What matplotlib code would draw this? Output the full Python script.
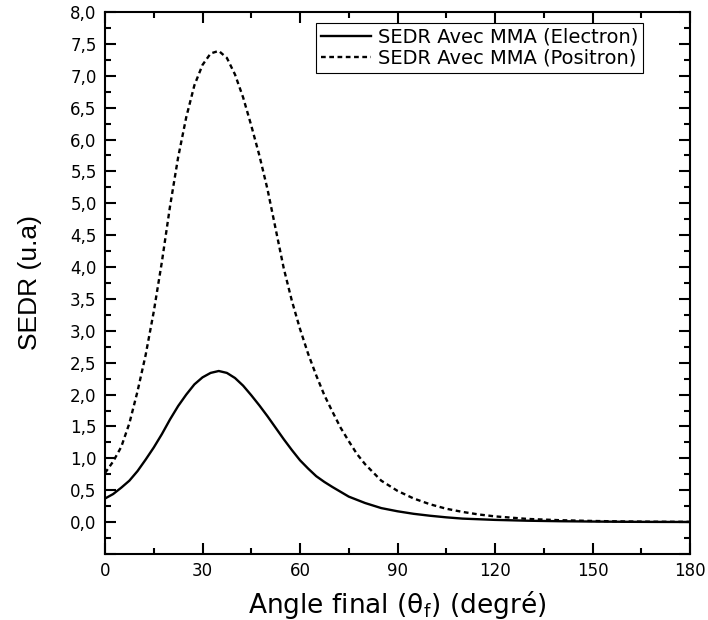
import matplotlib
matplotlib.use("Agg")
import matplotlib.pyplot as plt
from matplotlib.ticker import MultipleLocator, FuncFormatter
from matplotlib import font_manager

# Angle (degrees)
angle_e = [0, 2.5, 5, 7.5, 10, 12.5, 15, 17.5, 20, 22.5, 25, 27.5, 30, 32.5, 35,
           37.5, 40, 42.5, 45, 47.5, 50, 52.5, 55, 57.5, 60, 62.5, 65, 67.5, 70,
           75, 80, 85, 90, 95, 100, 105, 110, 120, 130, 140, 150, 160, 170, 180]
sedr_electron = [0.37, 0.44, 0.54, 0.65, 0.80, 0.98, 1.17, 1.38, 1.61, 1.82, 2.00,
                 2.16, 2.27, 2.34, 2.37, 2.34, 2.26, 2.14, 1.99, 1.83, 1.66, 1.48,
                 1.30, 1.13, 0.97, 0.84, 0.72, 0.63, 0.55, 0.40, 0.30, 0.22, 0.17,
                 0.13, 0.10, 0.075, 0.055, 0.035, 0.022, 0.014, 0.009, 0.005,
                 0.003, 0.002]

angle_p = [0, 2.5, 5, 7.5, 10, 12.5, 15, 17.5, 20, 22.5, 25, 27.5, 30, 32.5, 35,
           37.5, 40, 42.5, 45, 47.5, 50, 52.5, 55, 57.5, 60, 62.5, 65, 67.5, 70,
           72.5, 75, 77.5, 80, 85, 90, 95, 100, 105, 110, 115, 120, 130, 140,
           150, 160, 170, 180]
sedr_positron = [0.77, 0.95, 1.18, 1.55, 2.05, 2.62, 3.30, 4.08, 4.95, 5.72, 6.35,
                 6.85, 7.17, 7.35, 7.39, 7.28, 7.02, 6.66, 6.22, 5.75, 5.22, 4.60,
                 3.98, 3.47, 3.03, 2.64, 2.30, 1.99, 1.73, 1.48, 1.27, 1.07, 0.91,
                 0.65, 0.49, 0.37, 0.28, 0.21, 0.16, 0.12, 0.09, 0.05, 0.03, 0.018,
                 0.01, 0.006, 0.004]

label_e = "SEDR Avec MMA (Electron)"
label_p = "SEDR Avec MMA (Positron)"
xlabel = r"Angle final (θ$_\mathregular{f}$) (degré)"
ylabel = "SEDR (u.a)"

plt.rcParams['font.family'] = ['DejaVu Sans']
plt.rcParams['mathtext.fontset'] = 'custom'
plt.rcParams['mathtext.rm'] = 'DejaVu Sans'

names = {f.name for f in font_manager.fontManager.ttflist}
narrow = 'Liberation Sans Narrow' if 'Liberation Sans Narrow' in names else 'Liberation Sans'

fig = plt.figure(figsize=(7.08, 6.2), dpi=100)
ax = fig.add_axes([105/708, 1 - 554/620, 585/708, 542/620])

ax.plot(angle_e, sedr_electron, color='black', lw=1.7, label=label_e)
ax.plot(angle_p, sedr_positron, color='black', lw=1.7, linestyle=(0, (2.0, 1.5)),
        label=label_p)

ax.set_xlim(0, 180)
ax.set_ylim(-0.5, 8.0)
ax.xaxis.set_major_locator(MultipleLocator(30))
ax.xaxis.set_minor_locator(MultipleLocator(15))
ax.yaxis.set_major_locator(MultipleLocator(0.5))
ax.yaxis.set_minor_locator(MultipleLocator(0.25))

def yfmt(v, pos):
    if v < -0.01:
        return ""
    return f"{v:.1f}".replace(".", ",")
ax.yaxis.set_major_formatter(FuncFormatter(yfmt))
ax.xaxis.set_major_formatter(FuncFormatter(lambda v, p: f"{int(round(v))}"))

for s in ax.spines.values():
    s.set_linewidth(1.5)
ax.tick_params(which='both', direction='in', top=True, right=True, width=1.5,
               labelsize=12, pad=6)
ax.tick_params(which='major', length=8)
ax.tick_params(which='minor', length=4.5)

ax.set_xlabel(xlabel, fontsize=19, labelpad=6)
ax.set_ylabel(ylabel, fontsize=19, family=[narrow, 'Liberation Sans'],
              labelpad=20)

leg = ax.legend(loc='upper right', bbox_to_anchor=(0.92, 0.98), borderaxespad=0,
                fontsize=14, handlelength=2.6, handletextpad=0.35,
                fancybox=False, edgecolor='black', framealpha=1,
                borderpad=0.25, labelspacing=0.1)
leg.get_frame().set_linewidth(0.8)

fig.savefig("out.png", dpi=100)
